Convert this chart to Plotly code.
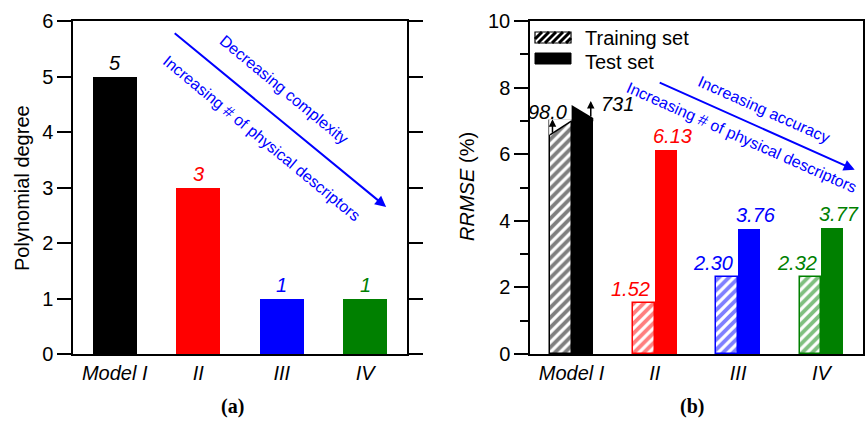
import plotly.graph_objects as go

# ---------------- data ----------------
models = ["Model I", "II", "III", "IV"]
colors = ["#000000", "#FF0000", "#0000FF", "#008000"]
poly_degree = [5, 3, 1, 1]
rrmse_train = [98.0, 1.52, 2.30, 2.32]
rrmse_test = [731, 6.13, 3.76, 3.77]
rrmse_train_lbl = ["98.0", "1.52", "2.30", "2.32"]
rrmse_test_lbl = ["731", "6.13", "3.76", "3.77"]
y1_ticks = [0, 1, 2, 3, 4, 5, 6]
y2_ticks = [0, 2, 4, 6, 8, 10]

# display settings
CAP = 7.0          # axis-break display level for out-of-range Model I bars
W1 = 0.53          # bar width, panel (a)
W2 = 0.26          # bar width, panel (b)
FONT = "Liberation Sans, Arial, Helvetica, sans-serif"
SERIF = "Liberation Serif, Times New Roman, serif"
W, H = 865, 426

def px(x):
    return x / W

def py(y):
    return 1 - y / H

xs = list(range(len(models)))
fig = go.Figure()

# panel (a)
fig.add_trace(go.Bar(
    x=xs, y=poly_degree, width=W1, marker=dict(color=colors, line=dict(width=0)),
    xaxis="x", yaxis="y", showlegend=False, hoverinfo="skip"))

# panel (b) - training (hatched) and test (solid)
disp_train = [min(v, CAP) for v in rrmse_train]
disp_test = [min(v, CAP) for v in rrmse_test]
fig.add_trace(go.Bar(
    x=xs, y=disp_train, width=W2, offset=-W2,
    marker=dict(color="white", line=dict(color=colors, width=1.5),
                pattern=dict(shape="/", fgcolor=colors, bgcolor="white",
                             size=7, solidity=0.55, fillmode="overlay")),
    xaxis="x2", yaxis="y2", showlegend=False, hoverinfo="skip"))
fig.add_trace(go.Bar(
    x=xs, y=disp_test, width=W2, offset=0,
    marker=dict(color=colors, line=dict(width=0)),
    xaxis="x2", yaxis="y2", showlegend=False, hoverinfo="skip"))

shapes = []
annotations = []

# break decoration on out-of-range bars
for i, (tr, te) in enumerate(zip(rrmse_train, rrmse_test)):
    if tr > CAP:
        xl, xr = i - W2, i
        shapes.append(dict(type="path", xref="x2", yref="y2",
                           path=f"M {xl-0.01},{CAP-0.42} L {xr},{CAP} L {xr},{CAP+0.05} L {xl-0.01},{CAP+0.05} Z",
                           fillcolor="white", line=dict(width=0), layer="above"))
        shapes.append(dict(type="line", xref="x2", yref="y2", x0=xl, y0=CAP - 0.42, x1=xr, y1=CAP,
                           line=dict(color=colors[i], width=1.5)))
        annotations.append(dict(xref="x2", yref="y2", x=xl + 0.03, y=CAP + 0.05,
                                ax=xl + 0.03, ay=CAP - 0.4, axref="x2", ayref="y2",
                                text="", showarrow=True, arrowhead=2, arrowsize=1,
                                arrowwidth=1.5, arrowcolor="black"))
        annotations.append(dict(xref="x2", yref="y2", x=xl, y=CAP + 0.05, xshift=-2, yshift=-6,
                                text=f"<i>{rrmse_train_lbl[i]}</i>", showarrow=False,
                                xanchor="center", yanchor="bottom",
                                font=dict(family=FONT, size=20, color=colors[i])))
    if te > CAP:
        xl, xr = i, i + W2
        shapes.append(dict(type="path", xref="x2", yref="y2",
                           path=f"M {xl},{CAP-0.01} L {xl},{CAP+0.48} L {xr},{CAP+0.09} L {xr},{CAP-0.01} Z",
                           fillcolor=colors[i], line=dict(width=0), layer="above"))
        annotations.append(dict(xref="x2", yref="y2", x=xr - 0.03, y=CAP + 0.6,
                                ax=xr - 0.03, ay=CAP + 0.09, axref="x2", ayref="y2",
                                text="", showarrow=True, arrowhead=2, arrowsize=1,
                                arrowwidth=1.5, arrowcolor="black"))
        annotations.append(dict(xref="x2", yref="y2", x=xr, y=CAP + 0.5, xshift=6,
                                text=f"<i>{rrmse_test_lbl[i]}</i>", showarrow=False,
                                xanchor="left", yanchor="middle",
                                font=dict(family=FONT, size=20, color=colors[i])))

# value labels panel (a)
for i, v in enumerate(poly_degree):
    annotations.append(dict(xref="x", yref="y", x=i, y=v, yshift=1,
                            text=f"<i>{v}</i>", showarrow=False, xanchor="center", yanchor="bottom",
                            font=dict(family=FONT, size=20, color=colors[i])))

# value labels panel (b)
for i in range(len(models)):
    if rrmse_train[i] <= CAP:
        annotations.append(dict(xref="x2", yref="y2", x=i - W2 / 2, y=rrmse_train[i],
                                xshift=-14, yshift=1, text=f"<i>{rrmse_train_lbl[i]}</i>",
                                showarrow=False, xanchor="center", yanchor="bottom",
                                font=dict(family=FONT, size=20, color=colors[i])))
    if rrmse_test[i] <= CAP:
        annotations.append(dict(xref="x2", yref="y2", x=i + W2 / 2, y=rrmse_test[i],
                                xshift=7, yshift=1, text=f"<i>{rrmse_test_lbl[i]}</i>",
                                showarrow=False, xanchor="center", yanchor="bottom",
                                font=dict(family=FONT, size=20, color=colors[i])))

# blue trend arrows
annotations.append(dict(xref="x", yref="y", x=3.25, y=2.65, ax=0.70, ay=5.80,
                        axref="x", ayref="y", text="", showarrow=True, arrowhead=2,
                        arrowsize=1.1, arrowwidth=2, arrowcolor="#0000FF"))
annotations.append(dict(xref="x2", yref="y2", x=3.40, y=5.53, ax=1.04, ay=8.17,
                        axref="x2", ayref="y2", text="", showarrow=True, arrowhead=2,
                        arrowsize=1.1, arrowwidth=2, arrowcolor="#0000FF"))

blue_txt = [
    ("Decreasing complexity", 284, 89, 39.5),
    ("Increasing # of physical descriptors", 262, 138, 39.5),
    ("Increasing accuracy", 764, 109, 24),
    ("Increasing # of physical descriptors", 742, 137, 24),
]
for t, x, y, a in blue_txt:
    annotations.append(dict(xref="paper", yref="paper", x=px(x), y=py(y), text=t,
                            textangle=a, showarrow=False, xanchor="center", yanchor="middle",
                            font=dict(family=FONT, size=16, color="#0000FF")))

# axis titles
annotations.append(dict(xref="paper", yref="paper", x=px(22), y=py(188), text="Polynomial degree",
                        textangle=-90, showarrow=False, xanchor="center", yanchor="middle",
                        font=dict(family=FONT, size=20, color="black")))
annotations.append(dict(xref="paper", yref="paper", x=px(467), y=py(205), text="RRMSE",
                        textangle=-90, showarrow=False, xanchor="center", yanchor="middle",
                        font=dict(family=FONT, size=20, color="black", style="italic")))
annotations.append(dict(xref="paper", yref="paper", x=px(467), y=py(148), text="(%)",
                        textangle=-90, showarrow=False, xanchor="center", yanchor="middle",
                        font=dict(family=FONT, size=20, color="black")))
# panel labels
annotations.append(dict(xref="paper", yref="paper", x=px(233), y=py(406), text="<b>(a)</b>",
                        showarrow=False, xanchor="center", yanchor="middle",
                        font=dict(family=SERIF, size=20, color="black")))
annotations.append(dict(xref="paper", yref="paper", x=px(692), y=py(406), text="<b>(b)</b>",
                        showarrow=False, xanchor="center", yanchor="middle",
                        font=dict(family=SERIF, size=20, color="black")))

# legend (manual)
lx0, lx1 = 535, 571
ty0, ty1 = 32, 43
sy0, sy1 = 53, 64
shapes.append(dict(type="rect", xref="paper", yref="paper", x0=px(lx0), x1=px(lx1),
                   y0=py(ty1), y1=py(ty0), fillcolor="white", line=dict(color="black", width=1.2)))
# hatch stripes inside training swatch
step = 7
hgt = ty1 - ty0
k = lx0 - hgt
while k < lx1:
    xa, ya = k, ty1
    xb, yb = k + hgt, ty0
    if xa < lx0:
        ya = ty1 - (lx0 - xa); xa = lx0
    if xb > lx1:
        yb = ty0 + (xb - lx1); xb = lx1
    if xb > xa:
        shapes.append(dict(type="line", xref="paper", yref="paper", x0=px(xa), y0=py(ya),
                           x1=px(xb), y1=py(yb), line=dict(color="black", width=3)))
    k += step
shapes.append(dict(type="rect", xref="paper", yref="paper", x0=px(lx0), x1=px(lx1),
                   y0=py(sy1), y1=py(sy0), fillcolor="black", line=dict(color="black", width=1)))
annotations.append(dict(xref="paper", yref="paper", x=px(583), y=py(38), text="Training set",
                        xanchor="left", yanchor="middle", showarrow=False,
                        font=dict(family=FONT, size=20, color="black")))
annotations.append(dict(xref="paper", yref="paper", x=px(583), y=py(62), text="Test set",
                        xanchor="left", yanchor="middle", showarrow=False,
                        font=dict(family=FONT, size=20, color="black")))

ax_common = dict(showline=True, linecolor="black", linewidth=1.5, showgrid=False,
                 zeroline=False, automargin=False)
xtick = dict(tickvals=xs, ticktext=[f"<i>{m}</i>" for m in models], ticks="",
             tickfont=dict(family=FONT, size=20, color="black"), range=[-0.5, 3.5], mirror=True)

fig.update_layout(
    width=W, height=H, margin=dict(l=0, r=0, t=0, b=0, autoexpand=False),
    paper_bgcolor="white", plot_bgcolor="white", bargap=0,
    xaxis=dict(domain=[px(73), px(407)], anchor="y", **xtick, **ax_common),
    yaxis=dict(domain=[py(354), py(21)], anchor="x", range=[0, 6], tickvals=y1_ticks,
               ticks="outside", ticklen=14, tickwidth=1.5, tickcolor="black", mirror="ticks",
               tickfont=dict(family=FONT, size=20, color="black"), **ax_common),
    xaxis2=dict(domain=[px(530), px(863)], anchor="y2", **xtick, **ax_common),
    yaxis2=dict(domain=[py(354), py(21)], anchor="x2", range=[0, 10], tickvals=y2_ticks,
                ticks="outside", ticklen=14, tickwidth=1.5, tickcolor="black", mirror="ticks",
                minor=dict(dtick=1, ticks="outside", ticklen=8, tickwidth=1.5, tickcolor="black"),
                tickfont=dict(family=FONT, size=20, color="black"), **ax_common),
    shapes=shapes, annotations=annotations,
)

fig.write_html("out.html")
